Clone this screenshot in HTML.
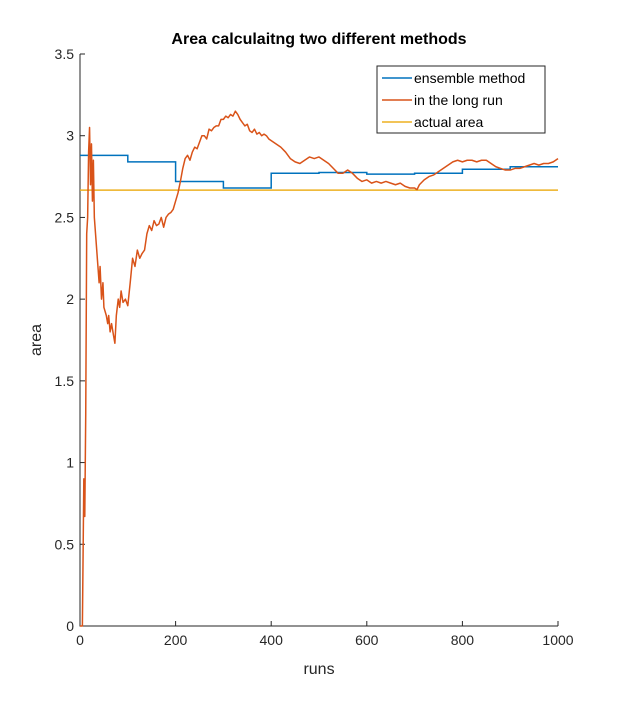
<!DOCTYPE html>
<html><head><meta charset="utf-8"><style>
body{margin:0;background:#fff;}
svg{display:block;font-family:"Liberation Sans",sans-serif;}
</style></head><body>
<svg id="chart" width="618" height="702" viewBox="0 0 618 702">
<rect x="0" y="0" width="618" height="702" fill="#fff"/>
<text x="319" y="44" text-anchor="middle" font-size="16" font-weight="bold" fill="#000">Area calculaitng two different methods</text>
<g id="plot"></g>
<text x="319" y="674" text-anchor="middle" font-size="16" fill="#262626">runs</text>
<text transform="translate(41,340) rotate(-90)" text-anchor="middle" font-size="16" fill="#262626">area</text>
<g>
<rect x="377" y="66" width="168" height="67" fill="#fff" stroke="#262626" stroke-width="1"/>
<line x1="382" y1="78" x2="412" y2="78" stroke="#0072BD" stroke-width="1.5"/>
<text x="414" y="83" font-size="14" fill="#000">ensemble method</text>
<line x1="382" y1="100" x2="412" y2="100" stroke="#D95319" stroke-width="1.5"/>
<text x="414" y="105" font-size="14" fill="#000">in the long run</text>
<line x1="382" y1="122" x2="412" y2="122" stroke="#EDB120" stroke-width="1.5"/>
<text x="414" y="127" font-size="14" fill="#000">actual area</text>
</g>
</svg>
<script>
const xTicks=[0,200,400,600,800,1000];
const yTicks=[0,0.5,1,1.5,2,2.5,3,3.5];
const yTickLabels=["0","0.5","1","1.5","2","2.5","3","3.5"];
const ensembleStarts=[0,100,200,300,400,500,600,700,800,900];
const ensembleValues=[2.88,2.84,2.72,2.68,2.77,2.775,2.765,2.77,2.795,2.81];
const actualArea=2.667;
const runX=[0,5,8,10,12,14,16,18,20,22,24,26,28,30,35,40,42,45,48,50,55,58,60,63,66,70,73,76,80,83,86,90,95,100,105,110,115,120,125,130,135,140,145,150,155,160,165,170,175,180,185,190,195,200,205,210,215,220,225,230,235,240,245,250,255,260,265,270,275,280,285,290,295,300,305,310,315,320,325,330,335,340,345,350,355,360,365,370,375,380,385,390,395,400,410,420,430,440,450,460,470,480,490,500,510,520,530,540,550,560,570,580,590,600,610,620,630,640,650,660,670,680,690,700,705,710,720,730,740,750,760,770,780,790,800,810,820,830,840,850,860,870,880,890,900,910,920,930,940,950,960,970,980,990,1000];
const runY=[0,0,0.9,0.67,1.3,2.4,2.5,2.9,3.05,2.7,2.95,2.6,2.85,2.5,2.3,2.1,2.2,2.0,2.1,1.95,1.9,1.85,1.9,1.8,1.85,1.78,1.73,1.9,2.0,1.95,2.05,1.98,2.0,1.96,2.1,2.25,2.2,2.3,2.25,2.28,2.3,2.4,2.45,2.42,2.48,2.45,2.46,2.5,2.44,2.5,2.52,2.53,2.55,2.6,2.65,2.72,2.8,2.86,2.88,2.85,2.9,2.93,2.92,2.96,3.0,3.0,2.98,3.04,3.03,3.05,3.06,3.06,3.1,3.1,3.12,3.11,3.13,3.12,3.15,3.13,3.1,3.08,3.06,3.07,3.03,3.02,3.04,3.01,3.02,3.0,3.01,3.0,2.98,2.97,2.95,2.93,2.9,2.86,2.84,2.83,2.85,2.87,2.86,2.87,2.85,2.83,2.8,2.77,2.77,2.79,2.77,2.74,2.72,2.73,2.71,2.72,2.71,2.72,2.71,2.7,2.71,2.69,2.68,2.68,2.67,2.7,2.73,2.75,2.76,2.78,2.8,2.82,2.84,2.85,2.84,2.85,2.85,2.84,2.85,2.85,2.83,2.81,2.8,2.79,2.79,2.8,2.8,2.81,2.82,2.83,2.82,2.83,2.83,2.84,2.86];
const X0=80,X1=558,Y0=626,Y1=54;
const sx=v=>X0+(v-0)/1000*(X1-X0);
const sy=v=>Y0-(v-0)/3.5*(Y0-Y1);
const NS="http://www.w3.org/2000/svg";
const g=document.getElementById('plot');
function mk(t,a){const e=document.createElementNS(NS,t);for(const k in a)e.setAttribute(k,a[k]);g.appendChild(e);return e;}
let ax=mk('path',{d:`M${X0},${Y1} L${X0},${Y0} L${X1},${Y0}`,fill:'none',stroke:'#262626','stroke-width':1});


xTicks.forEach(v=>{
 const t=mk('line',{x1:sx(v),x2:sx(v),y1:Y0,y2:Y0-5,stroke:'#262626'});
 
 
 const l=mk('text',{x:sx(v),y:Y0+19,'text-anchor':'middle','font-size':14,fill:'#262626'});
 l.textContent=v;
 
 
});
yTicks.forEach((v,i)=>{
 const t=mk('line',{x1:X0,x2:X0+5,y1:sy(v),y2:sy(v),stroke:'#262626'});
 
 
 const l=mk('text',{x:X0-6,y:sy(v)+5,'text-anchor':'end','font-size':14,fill:'#262626'});
 l.textContent=yTickLabels[i];
 
 
});
const a=mk('line',{x1:sx(0),x2:sx(1000),y1:sy(actualArea),y2:sy(actualArea),stroke:'#EDB120','stroke-width':1.5});


let d='';
ensembleStarts.forEach((s,i)=>{
 const e=i<ensembleStarts.length-1?ensembleStarts[i+1]:1000;
 d+=(i===0?'M':'L')+sx(s)+','+sy(ensembleValues[i])+' L'+sx(e)+','+sy(ensembleValues[i])+' ';
});
const b=mk('path',{d:d,fill:'none',stroke:'#0072BD','stroke-width':1.5});


const o=mk('path',{d:runX.map((x,i)=>(i?'L':'M')+sx(x)+','+sy(runY[i])).join(' '),fill:'none',stroke:'#D95319','stroke-width':1.5,'stroke-linejoin':'round'});


</script>
</body></html>
